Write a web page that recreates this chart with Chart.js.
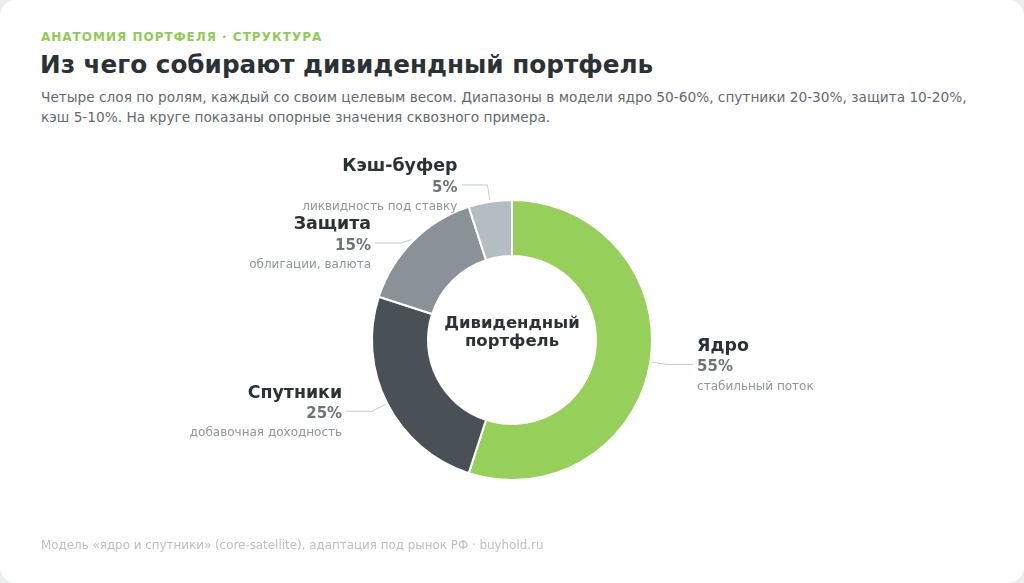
<!DOCTYPE html>
<html lang="ru">
<head>
<meta charset="utf-8">
<title>Из чего собирают дивидендный портфель</title>
<script src="https://cdn.jsdelivr.net/npm/chart.js@4/dist/chart.umd.min.js"></script>
<style>
  html, body { margin: 0; padding: 0; }
  body {
    width: 1024px; height: 583px; overflow: hidden;
    background: #eceeee;
    font-family: "DejaVu Sans", sans-serif;
  }
  .card {
    position: absolute; left: 0; top: 0; width: 1024px; height: 583px;
    background: #fff; border-radius: 16px;
  }
  .kicker {
    position: absolute; left: 41px; top: 30px;
    font-size: 12px; font-weight: bold; letter-spacing: 1px;
    color: #8fcc55;
  }
  h1 {
    position: absolute; left: 40px; top: 50px; margin: 0;
    font-size: 24.7px; font-weight: bold; color: #2b3235;
  }
  .sub {
    position: absolute; left: 41px; top: 87px; width: 950px;
    font-size: 13.7px; line-height: 20px; color: #5f6a6f;
  }
  .foot {
    position: absolute; left: 41px; top: 538px;
    font-size: 11.9px; color: #b9c1c5;
  }
  .chart-box { position: absolute; left: 0; top: 140px; width: 1024px; height: 400px; }
</style>
</head>
<body>
<div class="card">
  <div class="kicker">АНАТОМИЯ ПОРТФЕЛЯ · СТРУКТУРА</div>
  <h1>Из чего собирают дивидендный портфель</h1>
  <div class="sub">Четыре слоя по ролям, каждый со своим целевым весом. Диапазоны в модели ядро 50-60%, спутники 20-30%, защита 10-20%, кэш 5-10%. На круге показаны опорные значения сквозного примера.</div>
  <div class="chart-box"><canvas id="donut"></canvas></div>
  <div class="foot">Модель «ядро и спутники» (core-satellite), адаптация под рынок РФ · buyhold.ru</div>
</div>
<script>
// слои портфеля, по часовой стрелке от верхней точки
const layers = ['Ядро', 'Спутники', 'Защита', 'Кэш-буфер'];
const weights = [55, 25, 15, 5];
const notes = ['стабильный поток', 'добавочная доходность', 'облигации, валюта', 'ликвидность под ставку'];
const sliceColors = ['#97cf5b', '#4a5156', '#8a9298', '#b3bdc2'];
const centerLines = ['Дивидендный', 'портфель'];

// подписи снаружи кольца с выносками
const outerLabels = {
  id: 'outerLabels',
  afterDatasetsDraw(chart) {
    const ctx = chart.ctx;
    const arcs = chart.getDatasetMeta(0).data;
    const items = arcs.map((arc, i) => {
      const p = arc.getProps(['x', 'y', 'startAngle', 'endAngle', 'outerRadius']);
      const mid = (p.startAngle + p.endAngle) / 2;
      const cos = Math.cos(mid), sin = Math.sin(mid);
      return {
        i, cx: p.x, cy: p.y,
        sx: p.x + cos * (p.outerRadius + 2), sy: p.y + sin * (p.outerRadius + 2),
        ex: p.x + cos * (p.outerRadius + 17), ey: p.y + sin * (p.outerRadius + 17),
        right: cos >= 0
      };
    });
    items.forEach(it => { it.ly = it.ey; });
    // разводим подписи по вертикали на каждой стороне
    [true, false].forEach(side => {
      const group = items.filter(it => it.right === side).sort((a, b) => a.ly - b.ly);
      for (let k = 1; k < group.length; k++) {
        if (group[k].ly - group[k - 1].ly < 58) group[k].ly = group[k - 1].ly + 58;
      }
    });
    ctx.save();
    items.forEach(it => {
      const dir = it.right ? 1 : -1;
      const lineEnd = it.ex + dir * 26;
      ctx.strokeStyle = '#c3cbcf';
      ctx.lineWidth = 1;
      ctx.beginPath();
      ctx.moveTo(it.sx, it.sy);
      ctx.lineTo(it.ex, it.ly);
      ctx.lineTo(lineEnd, it.ly);
      ctx.stroke();

      const tx = lineEnd + dir * 4;
      ctx.textAlign = it.right ? 'left' : 'right';
      ctx.textBaseline = 'middle';
      ctx.fillStyle = '#2b3235';
      ctx.font = 'bold 17.4px "DejaVu Sans"';
      ctx.fillText(layers[it.i], tx, it.ly - 18);
      ctx.fillStyle = '#6a7479';
      ctx.font = 'bold 15px "DejaVu Sans"';
      ctx.fillText(weights[it.i] + '%', tx, it.ly + 3);
      ctx.fillStyle = '#8d979c';
      ctx.font = '12px "DejaVu Sans"';
      ctx.fillText(notes[it.i], tx, it.ly + 22);
    });

    // надпись в центре
    const c = items[0];
    ctx.textAlign = 'center';
    ctx.fillStyle = '#2b3235';
    ctx.font = 'bold 16.5px "DejaVu Sans"';
    ctx.fillText(centerLines[0], c.cx, c.cy - 16);
    ctx.fillText(centerLines[1], c.cx, c.cy + 2);
    ctx.restore();
  }
};

new Chart(document.getElementById('donut'), {
  type: 'doughnut',
  data: {
    labels: layers,
    datasets: [{
      data: weights,
      backgroundColor: sliceColors,
      borderColor: '#ffffff',
      borderWidth: 2,
      hoverOffset: 0
    }]
  },
  options: {
    responsive: true,
    maintainAspectRatio: false,
    animation: false,
    cutout: '60%',
    layout: { padding: { top: 59, bottom: 59 } },
    plugins: {
      legend: { display: false },
      tooltip: { enabled: false }
    }
  },
  plugins: [outerLabels]
});
</script>
</body>
</html>
